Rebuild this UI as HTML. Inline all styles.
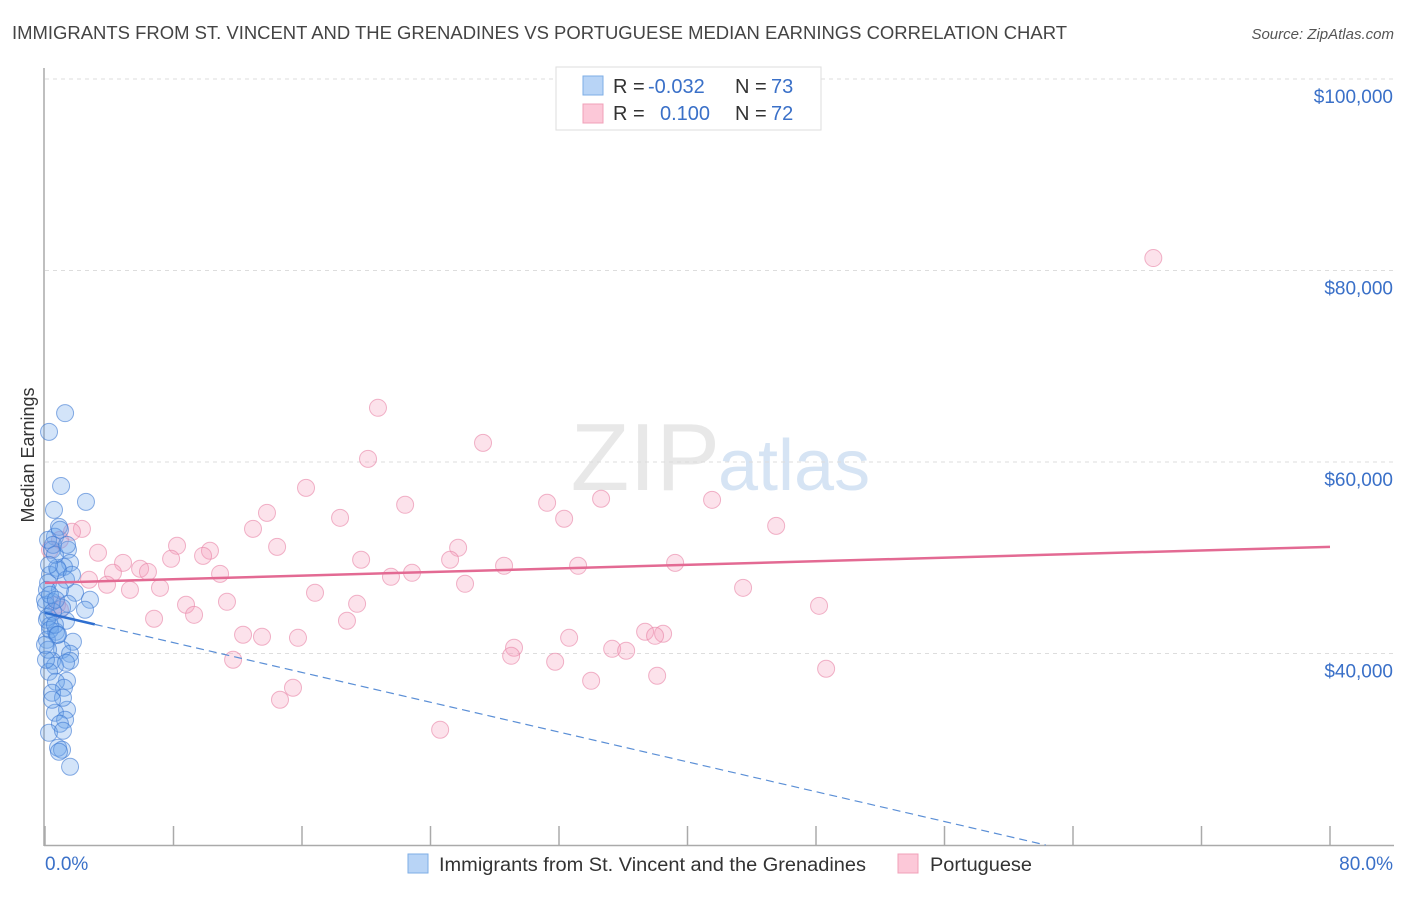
<!DOCTYPE html>
<html><head><meta charset="utf-8"><style>
body{margin:0;background:#fff;font-family:"Liberation Sans",sans-serif;}
svg text{font-family:"Liberation Sans",sans-serif;}
</style></head><body>
<svg id="chart" width="1406" height="892" xmlns="http://www.w3.org/2000/svg">
<text x="12" y="39" font-size="18" fill="#444" textLength="1055" lengthAdjust="spacingAndGlyphs">IMMIGRANTS FROM ST. VINCENT AND THE GRENADINES VS PORTUGUESE MEDIAN EARNINGS CORRELATION CHART</text>
<text x="1394" y="39" font-size="15" fill="#555" text-anchor="end" font-style="italic">Source: ZipAtlas.com</text>
<text x="720" y="490" font-size="96" fill="#e8e8e8" text-anchor="end" font-family="Liberation Serif">ZIP</text>
<text x="718" y="490" font-size="72" fill="#d6e4f4">atlas</text>
<g id="grid"></g>
<g id="axes"></g>
<g id="pink"></g>
<g id="blue"></g>
<g id="trends"></g>
<text transform="translate(34,455) rotate(-90)" font-size="18" fill="#333" text-anchor="middle">Median Earnings</text>
<g>
<rect x="556" y="67" width="265" height="63" fill="#fff" stroke="#ddd"/>
<rect x="583" y="76" width="20" height="19" fill="#b8d4f6" stroke="#7eaee6"/>
<rect x="583" y="104" width="20" height="19" fill="#fcc8d8" stroke="#f0a0b8"/>
<text x="613" y="93" font-size="20" fill="#333">R =</text>
<text x="648" y="93" font-size="20" fill="#3a70c8">-0.032</text>
<text x="735" y="93" font-size="20" fill="#333">N =</text>
<text x="771" y="93" font-size="20" fill="#3a70c8">73</text>
<text x="613" y="120" font-size="20" fill="#333">R =</text>
<text x="660" y="120" font-size="20" fill="#3a70c8">0.100</text>
<text x="735" y="120" font-size="20" fill="#333">N =</text>
<text x="771" y="120" font-size="20" fill="#3a70c8">72</text>
</g>
<g>
<rect x="408" y="854" width="20" height="19" fill="#b8d4f6" stroke="#7eaee6"/>
<text x="439" y="871" font-size="19" fill="#333" textLength="427" lengthAdjust="spacingAndGlyphs">Immigrants from St. Vincent and the Grenadines</text>
<rect x="898" y="854" width="20" height="19" fill="#fcc8d8" stroke="#f0a0b8"/>
<text x="930" y="871" font-size="19" fill="#333" textLength="102" lengthAdjust="spacingAndGlyphs">Portuguese</text>
</g>
</svg>
<script>
const blueX=[1.25,0.25,1.0,2.55,0.56,0.87,0.62,1.43,0.44,1.56,0.75,0.31,1.18,0.19,1.31,1.87,2.8,0.44,0.06,1.43,2.49,0.19,1.31,0.31,0.68,1.74,0.12,1.06,1.56,1.56,0.44,0.62,0.25,1.37,0.68,1.18,0.44,1.37,0.62,1.25,0.93,0.25,0.81,1.06,0.87,1.56,0.19,0.5,0.0,0.12,0.31,0.81,0.93,0.12,1.06,0.5,0.75,0.19,1.12,0.06,0.62,1.68,0.93,0.31,0.62,0.81,1.31,0.44,1.12,0.0,0.25,0.68,1.37];
const blueY=[65.1,63.15,57.5,55.84,55.0,53.23,52.19,50.83,50.83,49.47,48.95,48.22,49.05,47.38,47.7,46.34,45.61,45.4,45.09,45.19,44.57,43.83,43.42,42.9,42.27,41.23,41.43,40.39,39.97,39.24,39.24,38.72,38.09,37.15,37.05,36.42,35.9,34.13,33.81,33.08,32.66,31.72,30.16,29.95,29.74,28.17,51.87,51.35,45.61,43.52,42.48,48.74,46.65,46.65,44.78,44.36,41.96,40.39,35.38,39.35,50.31,48.22,52.92,46.13,43.0,41.96,39.03,35.17,31.93,40.91,49.26,45.61,51.35];
const pinkX=[69.0,20.73,27.27,20.11,16.25,22.42,31.26,34.62,41.53,18.37,32.32,13.82,12.95,45.52,2.30,1.68,0.93,0.31,3.30,8.22,10.27,14.45,25.72,4.86,7.85,9.84,19.68,25.22,28.58,33.19,39.23,5.92,6.41,4.23,10.90,21.54,22.85,2.74,3.86,5.29,7.16,16.81,26.15,43.46,0.75,8.78,11.33,19.43,9.28,6.79,18.80,48.19,12.33,13.51,15.75,32.63,37.36,38.48,37.98,29.20,29.02,35.31,36.18,11.71,31.76,48.63,38.11,34.0,15.44,14.63,24.60,0.93];
const pinkY=[81.3,65.66,62.0,60.33,57.3,55.53,55.74,56.16,56.05,54.17,54.07,54.69,53.02,53.33,53.02,52.71,51.87,50.83,50.52,51.25,50.73,51.14,51.04,49.47,49.89,50.2,49.79,49.79,49.16,49.16,49.47,48.85,48.53,48.43,48.32,48.01,48.43,47.7,47.18,46.65,46.86,46.34,47.28,46.86,45.09,45.09,45.4,45.19,44.04,43.63,43.42,44.98,41.96,41.75,41.64,41.64,42.27,42.06,41.85,40.6,39.76,40.49,40.29,39.35,39.14,38.41,37.68,37.15,36.42,35.17,32.04,44.57];
const yTicks=[100,80,60,40];
const yTickLabels=["$100,000","$80,000","$60,000","$40,000"];
const xTicks=[0,8,16,24,32,40,48,56,64,72,80];
const blueTrend={x0:0,y0:44.25,x1:62.3,y1:20,solidEnd:3.1};
const pinkTrend={x0:0,y0:47.38,x1:80,y1:51.14};

const NS="http://www.w3.org/2000/svg";
const sx=v=>45+v*(1330-45)/80;
const sy=v=>79+(100-v)*(845-79)/80;
function mk(tag,attrs,parent){const e=document.createElementNS(NS,tag);for(const k in attrs)e.setAttribute(k,attrs[k]);parent.appendChild(e);return e;}
const grid=document.getElementById('grid'),axes=document.getElementById('axes');
yTicks.forEach((t,i)=>{
  const l=mk('line',{x1:45,x2:1394,y1:sy(t),y2:sy(t),stroke:'#ddd','stroke-dasharray':'4,4'},grid);
  
  
  const tx=mk('text',{x:1393,y:sy(t)+24,'font-size':19,fill:'#3a70c8','text-anchor':'end'},axes);
  tx.textContent=yTickLabels[i];
  
  
});
const ax=mk('line',{x1:44,x2:44,y1:68,y2:846,stroke:'#aaa','stroke-width':1.5},axes);


const bx=mk('line',{x1:44,x2:1394,y1:845.5,y2:845.5,stroke:'#aaa','stroke-width':1.5},axes);


xTicks.forEach(t=>{
  const l=mk('line',{x1:sx(t),x2:sx(t),y1:826,y2:845,stroke:'#aaa','stroke-width':1.5},axes);
  
  
});
const xl0=mk('text',{x:45,y:870,'font-size':19,fill:'#3a70c8'},axes);xl0.textContent=xTicks[0].toFixed(1)+'%';


const xl1=mk('text',{x:1393,y:870,'font-size':19,fill:'#3a70c8','text-anchor':'end'},axes);xl1.textContent=xTicks[xTicks.length-1].toFixed(1)+'%';


const pg=document.getElementById('pink'),bg=document.getElementById('blue');
pinkX.forEach((x,i)=>{
  const c=mk('circle',{cx:sx(x),cy:sy(pinkY[i]),r:8.5,fill:'rgba(244,160,188,0.3)',stroke:'rgba(232,130,165,0.6)','stroke-width':1},pg);
  
  
});
blueX.forEach((x,i)=>{
  const c=mk('circle',{cx:sx(x),cy:sy(blueY[i]),r:8.5,fill:'rgba(110,165,235,0.3)',stroke:'rgba(60,120,210,0.6)','stroke-width':1},bg);
  
  
});
const tg=document.getElementById('trends');
const by=x=>blueTrend.y0+(blueTrend.y1-blueTrend.y0)*(x-blueTrend.x0)/(blueTrend.x1-blueTrend.x0);
const bs=mk('line',{x1:sx(blueTrend.x0),y1:sy(blueTrend.y0),x2:sx(blueTrend.solidEnd),y2:sy(by(blueTrend.solidEnd)),stroke:'#2f6fd0','stroke-width':2.5},tg);


const bd=mk('line',{x1:sx(blueTrend.solidEnd),y1:sy(by(blueTrend.solidEnd)),x2:sx(blueTrend.x1),y2:sy(blueTrend.y1),stroke:'#5b8fd6','stroke-width':1.2,'stroke-dasharray':'8,5'},tg);


const pt=mk('line',{x1:sx(pinkTrend.x0),y1:sy(pinkTrend.y0),x2:sx(pinkTrend.x1),y2:sy(pinkTrend.y1),stroke:'#e36a93','stroke-width':2.5},tg);


</script>
</body></html>
